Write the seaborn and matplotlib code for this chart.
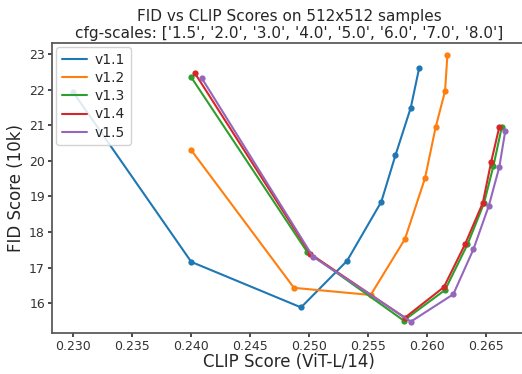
import pandas as pd
import matplotlib
matplotlib.use("Agg")
import matplotlib.pyplot as plt
import seaborn as sns

sns.set_theme(style="ticks")
plt.rcParams['font.family'] = ['DejaVu Sans']

# --- data (one point per cfg-scale) ---
cfg_scales = ['1.5', '2.0', '3.0', '4.0', '5.0', '6.0', '7.0', '8.0']
versions = ['v1.1', 'v1.2', 'v1.3', 'v1.4', 'v1.5']

clip_v11 = [0.2300, 0.2400, 0.2493, 0.2532, 0.2561, 0.2573, 0.2586, 0.2593]
fid_v11 = [21.93, 17.16, 15.88, 17.19, 18.85, 20.16, 21.50, 22.60]

clip_v12 = [0.2400, 0.2487, 0.2552, 0.2581, 0.2598, 0.2607, 0.2615, 0.2617]
fid_v12 = [20.30, 16.43, 16.23, 17.80, 19.51, 20.94, 21.96, 22.98]

clip_v13 = [0.2400, 0.2498, 0.2580, 0.2615, 0.2634, 0.2648, 0.2656, 0.2663]
fid_v13 = [22.35, 17.45, 15.51, 16.37, 17.65, 18.81, 19.86, 20.94]

clip_v14 = [0.2403, 0.2501, 0.2581, 0.2614, 0.2632, 0.2647, 0.2654, 0.2661]
fid_v14 = [22.47, 17.38, 15.59, 16.45, 17.66, 18.82, 19.96, 20.96]

clip_v15 = [0.2409, 0.2503, 0.2586, 0.2622, 0.2639, 0.2652, 0.2661, 0.2666]
fid_v15 = [22.32, 17.31, 15.48, 16.25, 17.51, 18.73, 19.83, 20.84]

clip_all = [clip_v11, clip_v12, clip_v13, clip_v14, clip_v15]
fid_all = [fid_v11, fid_v12, fid_v13, fid_v14, fid_v15]

rows = []
for v, cs, fs in zip(versions, clip_all, fid_all):
    for cfg, c, f in zip(cfg_scales, cs, fs):
        rows.append({'version': v, 'cfg': cfg, 'clip': c, 'fid': f})
df = pd.DataFrame(rows)

fig = plt.figure(figsize=(5.22, 3.74), dpi=100)
ax = fig.add_axes([0.0996, 0.1096, 0.909, 0.775])

sns.lineplot(data=df, x='clip', y='fid', hue='version', sort=False,
             palette='tab10', marker='o', markersize=4.5, markeredgewidth=0,
             linewidth=1.5, ax=ax, legend=False)

ax.set_xlim(0.2282, 0.2684)
ax.set_ylim(15.16, 23.31)
ax.set_xticks([0.230, 0.235, 0.240, 0.245, 0.250, 0.255, 0.260, 0.265])
ax.set_xticklabels([f"{t:.3f}" for t in ax.get_xticks()])
ax.tick_params(labelsize=9, colors='#333333', length=3, pad=2)
for s in ax.spines.values():
    s.set_color('#555555')
ax.spines['right'].set_visible(False)
ax.set_xlabel("CLIP Score (ViT-L/14)", fontsize=12, labelpad=0)
ax.set_ylabel("FID Score (10k)", fontsize=12, labelpad=3)
ax.set_title("FID vs CLIP Scores on 512x512 samples\ncfg-scales: "
             + str(cfg_scales), fontsize=11, pad=4, linespacing=1.1)

# legend shows lines only, like the original
handles = [plt.Line2D([], [], color=c, linewidth=1.5)
           for c in sns.color_palette('tab10', len(versions))]
leg = ax.legend(handles, versions, loc='upper left', fontsize=10,
                labelspacing=0.3, handlelength=1.8, handletextpad=0.6,
                borderaxespad=0.3, framealpha=0.85)
leg.set_zorder(10)

fig.savefig("out.png", dpi=100)
